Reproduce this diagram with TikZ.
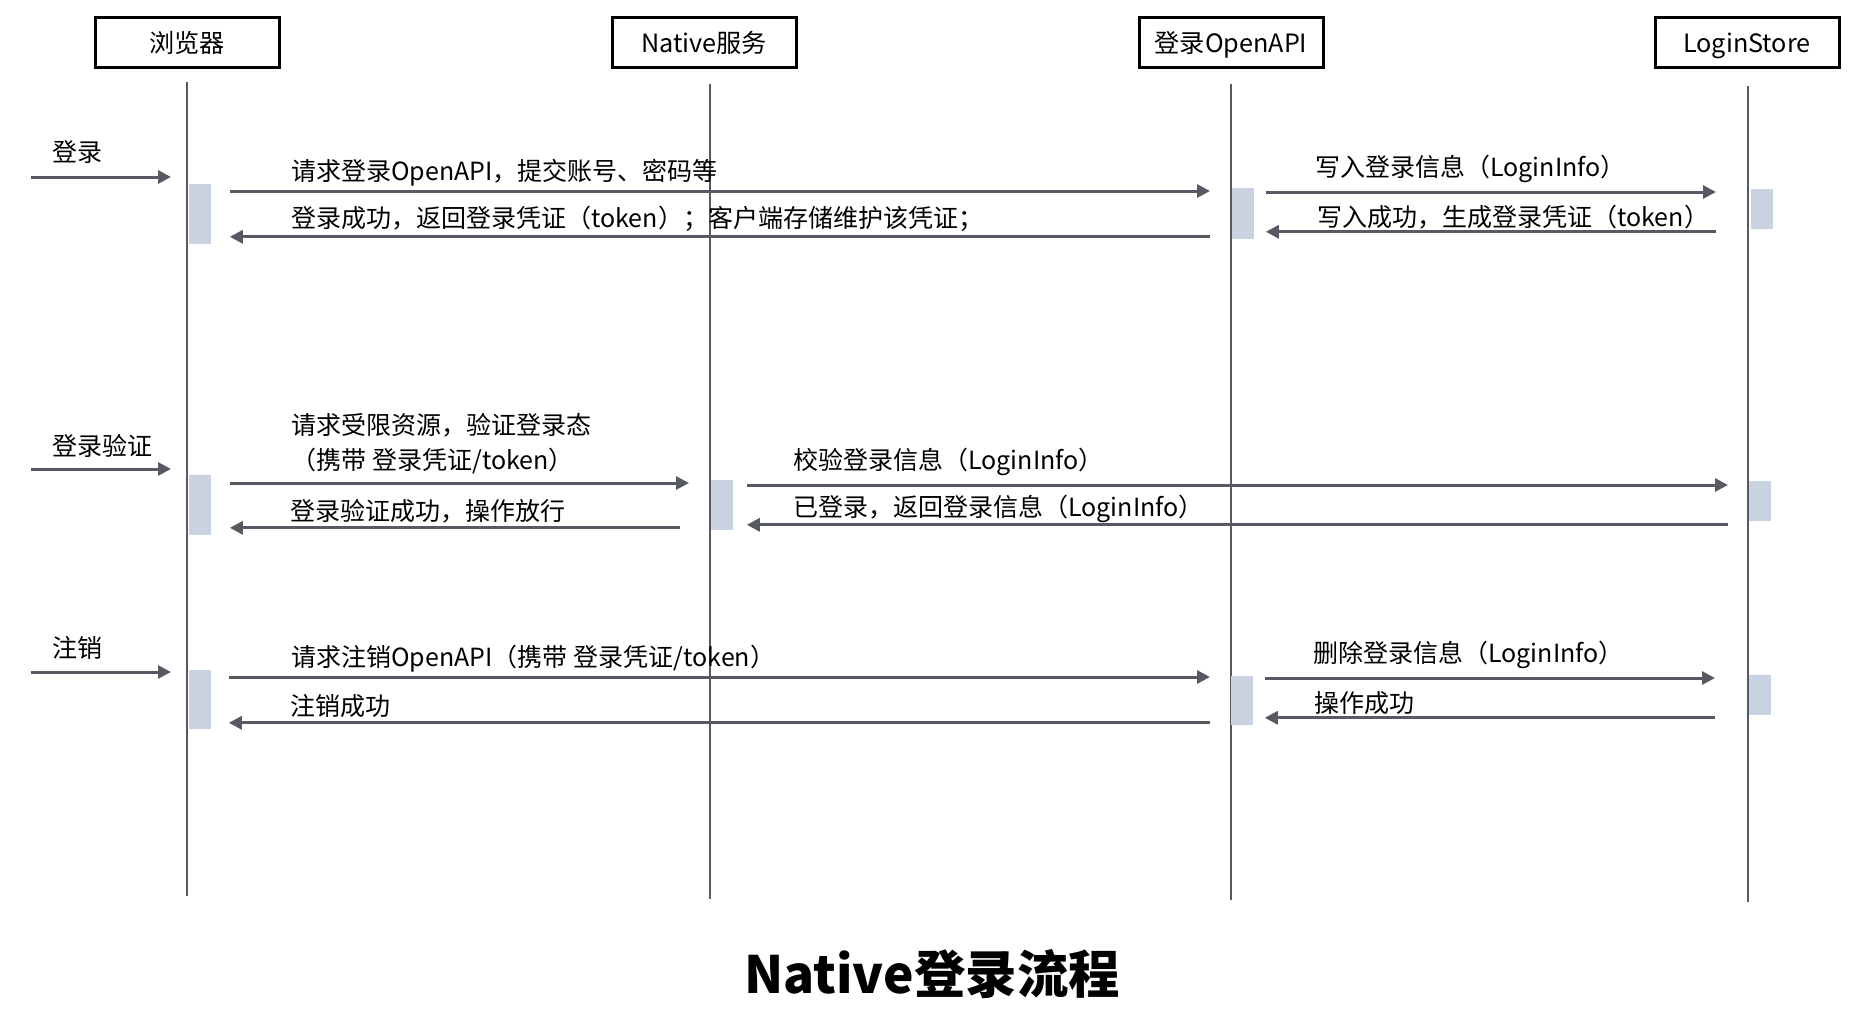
\documentclass[tikz,border=0pt]{standalone}
\usepackage{fontspec}
\setmainfont{Noto Sans CJK SC}
\usepackage{tikz}
\usetikzlibrary{positioning}
\usetikzlibrary{calc}
\usetikzlibrary{arrows.meta}

\definecolor{linegray}{RGB}{87,90,98}
\definecolor{barblue}{RGB}{200,210,224}

\begin{document}
\begin{tikzpicture}[x=0.5pt, y=-0.5pt,
    actor/.style={draw, line width=1.5pt, minimum width=92pt, minimum height=25pt, inner sep=0pt, text height=1.25em, text depth=0.25em, font=\fontsize{12.6}{15}\selectfont},
    life/.style={draw=linegray, line width=1.4pt},
    bar/.style={fill=barblue, minimum width=11pt, inner sep=0pt, anchor=north west},
    msg/.style={draw=linegray, line width=1.5pt, -{Triangle[length=6.5pt, width=6.5pt]}},
    lbl/.style={anchor=west, inner sep=0pt, yshift=-1.1pt, font=\fontsize{12.5}{15}\selectfont}]
    \useasboundingbox (0,0) rectangle (1870,1018);

    % participants
    \node[actor] (browser) at (187,42) {浏览器};
    \node[actor] (native) at (704,42) {Native服务};
    \node[actor] (openapi) at (1231,42) {登录OpenAPI};
    \node[actor] (store) at (1747,42) {LoginStore};

    % lifelines
    \draw[life] ($(browser.south)+(0,13)$) -- ($(browser.south)+(0,827)$);
    \draw[life] ($(native.south)+(6,15)$) -- ($(native.south)+(6,830)$);
    \draw[life] ($(openapi.south)+(0,15)$) -- ($(openapi.south)+(0,831)$);
    \draw[life] ($(store.south)+(1,17)$) -- ($(store.south)+(1,833)$);

    % activation bars
    \node[bar, minimum height=30pt] (b1) at (189,184) {};
    \node[bar, minimum height=25.5pt] (o1) at (1232,188) {};
    \node[bar, minimum height=20pt] (s1) at (1751,189) {};
    \node[bar, minimum height=30pt] (b2) at (189,475) {};
    \node[bar, minimum height=25pt] (n2) at (711,480) {};
    \node[bar, minimum height=20pt] (s2) at (1749,481) {};
    \node[bar, minimum height=29.5pt] (b3) at (189,670) {};
    \node[bar, minimum height=24.5pt] (o3) at (1231,676) {};
    \node[bar, minimum height=20pt] (s3) at (1749,675) {};

    % 登录
    \node[lbl] (login) at (52,150) {登录};
    \coordinate (in1) at (31,177);
    \draw[msg] (in1) -- ($(b1.west |- in1)+(-18,0)$);
    \draw[msg] ($(b1.north east)+(18,7)$) coordinate (m1) -- ($(o1.west |- m1)+(-22,0)$);
    \draw[msg] ($(o1.west |- b1.south)+(-22,-8)$) -- ($(b1.south east)+(18,-8)$);
    \draw[msg] ($(o1.north east)+(11,4)$) coordinate (m2) -- ($(s1.west |- m2)+(-35,0)$);
    \draw[msg] ($(s1.west |- o1.south)+(-35,-8)$) -- ($(o1.south east)+(11,-8)$);
    \node[lbl] (t1) at (291,171) {请求登录OpenAPI，提交账号、密码等};
    \node[lbl] (t2) at (291,217) {登录成功，返回登录凭证（token）；客户端存储维护该凭证；};
    \node[lbl] (t3) at (1315,167) {写入登录信息（LoginInfo）};
    \node[lbl] (t4) at (1317,215) {写入成功，生成登录凭证（token）};

    % 登录验证
    \node[lbl] (check) at (52,444) {登录验证};
    \coordinate (in2) at (31,469);
    \draw[msg] (in2) -- ($(b2.west |- in2)+(-18,0)$);
    \draw[msg] ($(b2.north east)+(18,8)$) coordinate (m3) -- ($(n2.west |- m3)+(-22,0)$);
    \draw[msg] ($(n2.west |- b2.south)+(-31,-8)$) -- ($(b2.south east)+(18,-8)$);
    \draw[msg] ($(n2.north east)+(13,5)$) coordinate (m4) -- ($(s2.west |- m4)+(-21,0)$);
    \draw[msg] ($(s2.west |- n2.south)+(-21,-6)$) -- ($(n2.south east)+(13,-6)$);
    \node[lbl] (t5) at (291,423) {请求受限资源，验证登录态};
    \node[lbl] (t6) at (291,459) {（携带 登录凭证/token）};
    \node[lbl] (t7) at (290,509) {登录验证成功，操作放行};
    \node[lbl] (t8) at (793,460) {校验登录信息（LoginInfo）};
    \node[lbl] (t9) at (793,507) {已登录，返回登录信息（LoginInfo）};

    % 注销
    \node[lbl] (logout) at (52,646) {注销};
    \coordinate (in3) at (31,672);
    \draw[msg] (in3) -- ($(b3.west |- in3)+(-18,0)$);
    \draw[msg] ($(b3.north east)+(17,7)$) coordinate (m5) -- ($(o3.west |- m5)+(-21,0)$);
    \draw[msg] ($(o3.west |- b3.south)+(-21,-7)$) -- ($(b3.south east)+(17,-7)$);
    \draw[msg] ($(o3.north east)+(11,2)$) coordinate (m6) -- ($(s3.west |- m6)+(-34,0)$);
    \draw[msg] ($(s3.west |- o3.south)+(-34,-8)$) -- ($(o3.south east)+(11,-8)$);
    \node[lbl] (t10) at (291,656) {请求注销OpenAPI（携带 登录凭证/token）};
    \node[lbl] (t11) at (290,704) {注销成功};
    \node[lbl] (t12) at (1313,653) {删除登录信息（LoginInfo）};
    \node[lbl] (t13) at (1314,701) {操作成功};

    \node[font=\bfseries\fontsize{25.7}{30}\selectfont] (title) at (932,974) {Native登录流程};
\end{tikzpicture}
\end{document}
